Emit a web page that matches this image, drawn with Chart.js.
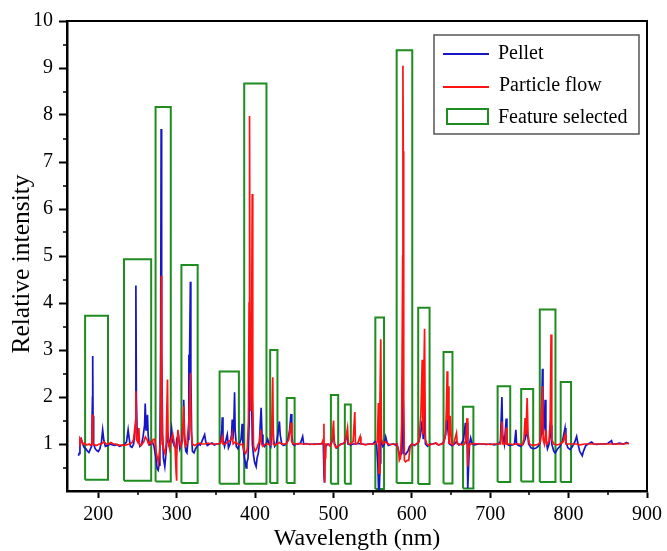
<!DOCTYPE html>
<html><head><meta charset="utf-8">
<script src="https://cdn.jsdelivr.net/npm/chart.js@4/dist/chart.umd.min.js"></script>
<style>html,body{margin:0;padding:0;background:#fff;}canvas{display:block;}</style>
</head><body>
<canvas id="c" width="667" height="551"></canvas>
<script>
const SERIF = "'Liberation Serif','Times New Roman',serif";

// ---- Pellet spectrum (blue) ----
const pelletX = [174.6,175.5,176.5,178,180,182,184,186,188,190,191.5,192.5,192.8,193.2,194,196,198,200,202,204,205.5,207,209,212,215,218,221,224,227,230,233,236,238,239.5,241,243,245,247,247.9,248.5,249.5,251,253,255,257,259,259.8,260.8,262,262.7,263.5,265,267,269,271,273,275,276.3,277.5,278.5,279.5,280.1,280.5,281,282,283,284.8,286,287.5,288.5,290,292,293.5,295,297,299,300,302,304,306,308,308.9,310,311.5,313,314.5,315.5,316,317.4,318,319,320,322,324,326,328,330,332,335.6,337,339,342,345,348,351,354,356,357.5,358.1,359,361,363,364.5,366,368,370,370.8,371.7,373,373.8,374.5,376,378,380,382,383.5,384.5,386,388.6,389.5,391,392.5,393.5,394.6,395.5,396.5,398,399.5,401.3,402.5,404,405.5,406.5,407.7,408.8,410,412,414,416,418,420,421.6,422.5,423.5,425,427,429,431,432,434,436,438,440,442,444,445.8,446.8,448,450,452,455,458,460.7,462,465,470,475,480,485,487,488,488.5,489,490,493,496,498,500,501.5,504,507,510,514,517,518.5,522,525,528,532,536,540,545,550,553,555,556.5,557.5,558.5,559.5,560.3,561,563,565,566.6,568,570,573,576,579,581,583,585,587,588.6,589.5,592,595,597,600,603,606,609,611,613.2,614.5,616.2,617.3,620,623,626,630,634,638,641,643,645,646,648,651,654,657,660,663,666,668.3,669.5,670.4,671.3,672.3,673.5,675,677,680,685,690,695,700,705,710,713,714.9,715.8,718,720.4,721.3,724,728,731,732.7,733.6,736,739,742,744.5,747.1,749,752,755,758,761,763,765,766.6,767.3,769,770,771,773,775,777.6,778.5,781,783,786,789,792,795.4,796.5,799,802,805,808,810.2,812,814,817.4,819,822,825,829.3,832,836,840,845,850,854.7,856,860,865,870,874,876.7];
const pelletY = [0.75,0.80,1.10,1.12,1.00,0.92,0.90,0.85,0.82,0.90,0.95,2.0,2.87,1.6,1.0,0.9,0.86,0.84,0.90,1.05,1.30,1.08,0.95,0.97,1.00,0.98,0.97,0.99,0.95,0.97,0.98,1.05,1.30,1.1,0.95,0.93,1.0,1.3,4.37,2.0,1.2,1.1,0.95,0.98,1.15,1.4,1.86,1.3,1.5,1.62,1.2,0.98,1.0,1.05,0.95,0.75,0.48,0.44,0.55,0.9,3.0,7.70,6.87,3.0,1.2,0.70,0.52,0.75,1.05,1.25,1.0,1.1,1.32,1.05,0.95,0.92,1.1,1.2,0.9,1.0,1.4,1.94,1.2,0.85,0.81,1.1,2.90,2.2,4.45,2.5,1.2,0.85,0.81,0.90,0.95,1.0,0.98,1.05,1.20,1.05,0.97,1.0,1.02,0.98,1.0,1.0,1.05,1.3,1.57,1.1,0.95,1.1,1.2,0.92,1.0,1.2,1.52,1.1,1.5,2.10,1.3,0.95,0.9,1.0,1.1,1.43,1.0,0.75,0.49,0.6,0.7,1.5,2.6,3.79,2.0,1.0,0.75,0.6,0.52,0.7,0.8,1.0,1.4,1.77,1.2,1.0,0.95,1.0,1.1,1.0,0.95,1.45,1.52,1.1,0.95,1.0,1.2,1.48,1.2,1.0,0.97,0.98,1.02,1.1,1.3,1.64,1.2,1.0,0.97,1.0,1.0,1.02,1.16,1.0,1.01,0.99,1.0,1.0,1.01,1.0,0.3,0.18,0.5,0.95,1.0,0.98,1.05,1.2,1.0,0.92,0.97,1.0,1.02,1.2,1.0,0.98,1.0,1.0,1.01,1.0,0.99,1.0,1.0,1.05,1.0,0.6,0.04,0.04,0.6,1.6,1.1,0.95,1.0,1.15,1.05,0.97,0.99,1.0,0.98,1.0,0.85,0.75,0.8,2.5,0.8,0.78,0.85,0.95,1.0,0.97,1.0,1.05,1.2,1.5,1.1,1.8,1.0,0.95,1.0,1.0,1.02,0.98,1.0,1.05,1.2,1.6,1.3,1.0,0.97,1.0,1.05,0.98,1.0,1.1,1.45,1.0,1.45,0.06,0.5,1.0,1.13,1.0,0.98,1.0,1.0,0.99,1.0,0.98,1.0,1.05,2.0,1.2,1.0,1.54,1.0,0.97,0.98,1.0,1.30,1.0,0.97,0.95,1.0,1.1,1.3,1.0,0.92,0.9,0.91,0.95,1.0,1.2,2.60,1.2,1.4,1.94,1.1,0.9,1.0,1.4,1.0,0.85,0.81,0.9,0.95,1.05,1.34,1.05,0.92,0.88,0.95,1.05,1.16,1.0,0.85,0.75,0.85,0.97,1.0,1.04,1.0,0.99,1.0,1.0,1.01,1.07,1.0,1.0,1.02,1.0,1.03,1.0];

// ---- Particle flow spectrum (red) ----
const flowX = [175.5,176.5,178,180,182,185,188,190,191.8,192.3,193,195,198,201,204,207,210,213,216,219,222,225,228,231,234,237,240,243,245,247.5,247.9,248.5,250,251.7,252.5,254,256,258,260,262,264,266,268,270,272,274,275.5,276.5,277.5,279,279.8,280.3,280.8,281.5,283,285,286.5,288.2,289,291,293,295,296.5,298,299.2,299.6,300.3,301.5,303,305,307,308.9,309.8,311,313,315.5,317.4,318.3,320,323,326,329,332,336,340,344,348,352,356,358,359,362,366,370,370.8,372,375,378,381,384,386,388,390,391.5,392.3,392.9,393.5,394.5,395.5,396.3,397,398,400,402,404,405.5,407,408,410,413,416,419,421,422.5,423.3,425,428,431,434,437,440,443,445.8,446.8,449,452,455,460,465,470,475,480,485,487,487.8,488.2,488.6,489.2,490,493,496,498,500.1,501,503,506,509,512,515,517.9,519,522,525,527.2,528,531,534,535,538,541,545,549,553,556,557.3,558.1,559.2,560.3,561.2,563,566,570,574,578,581,583,584,585.5,587,588.3,588.6,589,589.6,590.5,592,594,596,597.5,600,603,606,609,611.5,613.2,614.2,616.2,617.2,619,622,625,628,631,634,637,640,643,644,645,645.8,646.5,647.3,649,650.5,653,656.9,658,661,664,667,669,670.4,671.3,672.5,674,677,680,685,690,695,700,705,710,713,714.9,716,719,720.4,721.3,725,729,733,737,741,743,744.5,745.5,747.1,748.2,750,754,758,762,764,766.6,767.5,769,771,772,775,776.5,777.6,778.5,781,785,789,793,795.4,796.5,800,805,810,815,820,825,830,840,850,860,870,876.7];
const flowY = [0.97,1.13,1.1,1.0,1.02,0.98,1.0,0.97,1.0,1.62,1.0,0.98,0.97,1.0,1.0,1.05,1.0,1.0,1.03,1.0,1.0,0.98,0.97,0.98,0.97,0.99,1.0,1.03,1.1,1.5,2.12,1.1,1.05,1.34,1.0,0.97,1.0,1.05,1.15,1.1,1.0,1.05,1.0,1.1,1.1,0.8,0.7,0.6,0.75,1.0,2.5,4.58,3.0,1.2,0.9,0.8,1.0,2.37,1.1,0.9,1.1,1.2,1.05,0.9,0.4,0.22,0.7,1.3,1.1,0.95,1.05,1.8,1.1,0.95,1.0,1.5,2.51,1.3,1.0,0.97,1.0,1.02,1.0,1.0,1.02,1.0,1.0,1.0,1.02,1.15,1.0,1.0,1.05,1.1,1.2,1.0,1.05,1.0,0.98,1.0,0.85,0.8,0.9,1.5,4.0,7.98,3.5,1.7,3.0,6.32,2.0,0.95,0.85,0.9,1.0,1.05,1.3,1.0,0.95,1.0,1.0,0.98,1.2,2.42,1.0,0.98,1.0,1.03,1.0,1.0,1.0,1.1,1.45,1.05,1.0,1.0,1.01,1.0,1.0,1.0,0.99,1.0,1.0,1.1,1.43,0.5,0.18,0.7,1.0,1.0,0.95,1.05,1.50,1.0,0.92,0.95,1.0,1.0,1.05,1.34,1.0,1.0,1.05,1.68,1.0,1.02,1.16,1.0,1.0,0.98,1.0,1.0,1.0,1.05,1.87,0.38,1.8,3.23,1.1,1.0,1.05,1.0,0.99,1.0,1.0,0.85,0.65,0.7,1.41,5.0,9.05,7.23,2.0,0.65,0.62,0.65,0.65,0.9,1.0,0.98,1.0,1.05,1.62,2.79,1.2,3.45,1.1,1.0,0.97,1.0,1.0,1.02,0.98,1.0,1.0,1.2,1.7,2.55,1.5,2.23,1.0,1.6,1.0,0.98,1.23,1.0,1.0,0.98,1.0,1.1,1.55,0.52,0.9,1.0,1.0,1.01,1.0,1.0,1.0,0.99,1.0,1.0,1.0,1.48,1.0,1.0,1.35,1.0,1.0,0.99,1.0,1.0,0.98,1.1,1.55,1.2,1.98,1.2,1.0,0.97,0.98,1.0,1.05,2.23,1.1,1.0,1.3,1.0,1.05,1.5,3.33,1.1,1.0,0.98,1.0,1.05,1.2,1.0,1.0,1.0,1.0,0.98,1.0,1.0,1.0,1.0,1.0,1.0,1.0,1.02];

// ---- Selected feature windows ----
const boxLeft   = [183.1,232.7,273.0,306.0,354.7,386.1,419.2,440.3,496.7,514.5,553.4,580.6,608.1,640.4,665.3,709.4,739.5,763.2,789.9];
const boxRight  = [212.3,267.4,292.4,326.7,379.3,414.5,428.5,450.4,506.0,522.1,564.5,600.5,622.6,651.8,678.5,725.5,754.8,783.2,803.1];
const boxTop    = [3.73,4.93,8.17,4.81,2.54,8.67,3.00,1.98,2.04,1.84,3.69,9.38,3.90,2.96,1.79,2.23,2.17,3.86,2.32];
const boxBottom = [0.24,0.22,0.20,0.17,0.155,0.155,0.17,0.17,0.155,0.155,0.04,0.17,0.15,0.16,0.055,0.19,0.20,0.19,0.19];

// ---- axis ticks ----
const xMajorTicks = [200,300,400,500,600,700,800,900];
const xMinorTicks = [250,350,450,550,650,750,850];
const yMajorTicks = [1,2,3,4,5,6,7,8,9,10];
const yMinorTicks = [0.5,1.5,2.5,3.5,4.5,5.5,6.5,7.5,8.5,9.5];

const seriesNames = ['Pellet','Particle flow','Feature selected'];
const yTitle = 'Relative intensity';
const BLUE = '#1616c8', RED = '#ff1414', GREEN = '#1e8c1e';

const toPts = (xs, ys) => xs.map((x, i) => ({x, y: ys[i]}));

const datasets = [
  {label: seriesNames[1], data: toPts(flowX, flowY), borderColor: RED, borderWidth: 1.7},
  {label: seriesNames[0], data: toPts(pelletX, pelletY), borderColor: BLUE, borderWidth: 1.7}
];
boxLeft.forEach((l, i) => {
  const r = boxRight[i], t = boxTop[i], b = boxBottom[i];
  datasets.push({
    label: seriesNames[2],
    data: [{x:l,y:b},{x:l,y:t},{x:r,y:t},{x:r,y:b},{x:l,y:b}],
    borderColor: GREEN, borderWidth: 2, borderJoinStyle: 'miter'
  });
});
datasets.forEach(d => { d.pointRadius = 0; d.tension = 0; d.fill = false; d.spanGaps = true; });

const extras = {
  id: 'extras',
  afterDraw(chart) {
    const {ctx, chartArea: a, scales: {x, y}} = chart;
    ctx.save();
    // frame top/right
    ctx.strokeStyle = '#000'; ctx.lineWidth = 2;
    ctx.beginPath();
    ctx.moveTo(a.left, a.top); ctx.lineTo(a.right, a.top); ctx.lineTo(a.right, a.bottom + 1);
    ctx.stroke();
    // minor ticks
    ctx.lineWidth = 1.5;
    ctx.beginPath();
    xMinorTicks.forEach(v => { const p = Math.round(x.getPixelForValue(v)); ctx.moveTo(p, a.bottom); ctx.lineTo(p, a.bottom + 4); });
    yMinorTicks.forEach(v => { const p = Math.round(y.getPixelForValue(v)); ctx.moveTo(a.left, p); ctx.lineTo(a.left - 4, p); });
    ctx.stroke();
    // y axis title
    ctx.fillStyle = '#000';
    ctx.font = '25.5px ' + SERIF;
    ctx.textAlign = 'center'; ctx.textBaseline = 'middle';
    ctx.translate(22, 264); ctx.rotate(-Math.PI / 2);
    ctx.fillText(yTitle, 0, 0);
    ctx.setTransform(1, 0, 0, 1, 0, 0);
    // legend
    ctx.fillStyle = '#fff';
    ctx.fillRect(434, 35, 205, 99);
    ctx.strokeStyle = '#555'; ctx.lineWidth = 1.5;
    ctx.strokeRect(434, 35, 205, 99);
    ctx.lineWidth = 2;
    ctx.strokeStyle = BLUE; ctx.beginPath(); ctx.moveTo(443, 54); ctx.lineTo(489, 54); ctx.stroke();
    ctx.strokeStyle = RED; ctx.beginPath(); ctx.moveTo(443, 87); ctx.lineTo(489, 87); ctx.stroke();
    ctx.strokeStyle = GREEN; ctx.strokeRect(447, 109, 41, 15);
    ctx.fillStyle = '#000';
    ctx.font = '20px ' + SERIF;
    ctx.textBaseline = 'alphabetic'; ctx.textAlign = 'left';
    ctx.fillText(seriesNames[0], 498, 59);
    ctx.fillText(seriesNames[1], 499, 91);
    ctx.fillText(seriesNames[2], 498, 123);
    ctx.restore();
  }
};

new Chart(document.getElementById('c'), {
  type: 'line',
  data: {datasets},
  plugins: [extras],
  options: {
    responsive: false,
    animation: false,
    events: [],
    layout: {padding: {top: 21, right: 18, left: 0, bottom: 0}},
    plugins: {legend: {display: false}, tooltip: {enabled: false}},
    scales: {
      x: {
        type: 'linear', min: 160, max: 900,
        afterFit: s => { s.height = 60; },
        afterBuildTicks: s => { s.ticks = xMajorTicks.map(v => ({value: v})); },
        ticks: {font: {family: SERIF, size: 20}, color: '#000', padding: 5, maxRotation: 0, autoSkip: false},
        grid: {drawOnChartArea: false, drawTicks: true, tickLength: 7, tickColor: '#000', tickWidth: 2},
        border: {display: true, color: '#000', width: 2.5},
        title: {display: true, text: 'Wavelength (nm)', color: '#000', font: {family: SERIF, size: 24, lineHeight: 1}, padding: {top: 0, bottom: 0}}
      },
      y: {
        type: 'linear', min: 0, max: 10,
        afterFit: s => { s.width = 67; },
        afterBuildTicks: s => { s.ticks = yMajorTicks.map(v => ({value: v})); },
        ticks: {font: {family: SERIF, size: 20}, color: '#000', padding: 6, autoSkip: false},
        grid: {drawOnChartArea: false, drawTicks: true, tickLength: 8, tickColor: '#000', tickWidth: 2},
        border: {display: true, color: '#000', width: 2.5},
        title: {display: false}
      }
    }
  }
});
</script>
</body></html>
